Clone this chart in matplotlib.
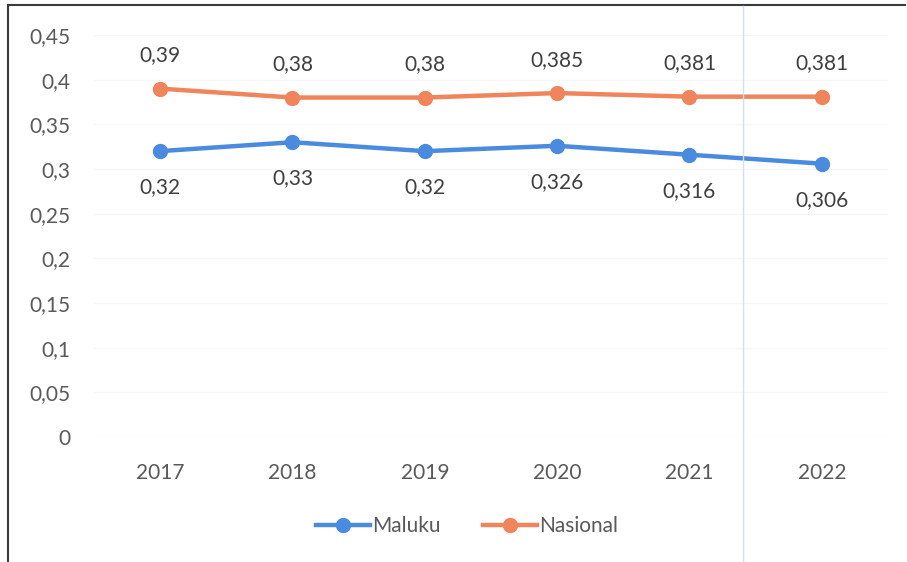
import matplotlib
matplotlib.use("Agg")
import matplotlib.pyplot as plt
from matplotlib.lines import Line2D

plt.rcParams['font.family'] = ['Lato', 'DejaVu Sans']

tahun = ['2017', '2018', '2019', '2020', '2021', '2022']
maluku = [0.32, 0.33, 0.32, 0.326, 0.316, 0.306]
nasional = [0.39, 0.38, 0.38, 0.385, 0.381, 0.381]
lbl_maluku = ['0,32', '0,33', '0,32', '0,326', '0,316', '0,306']
lbl_nasional = ['0,39', '0,38', '0,38', '0,385', '0,381', '0,381']
yticks = [0, 0.05, 0.1, 0.15, 0.2, 0.25, 0.3, 0.35, 0.4, 0.45]
ytick_lbl = ['0', '0,05', '0,1', '0,15', '0,2', '0,25', '0,3', '0,35', '0,4', '0,45']

c_blue = '#4A8BDF'
c_orange = '#F0845A'
c_text = '#595959'

fig = plt.figure(figsize=(9.07, 5.62), dpi=100)
ax = fig.add_axes([0.1036, 0.2224, 0.8754, 0.7153])

x = list(range(len(tahun)))
ax.plot(x, maluku, color=c_blue, lw=3.2, marker='o', ms=10, label='Maluku')
ax.plot(x, nasional, color=c_orange, lw=3.2, marker='o', ms=10, label='Nasional')

for i in x:
    ax.annotate(lbl_nasional[i], (i, nasional[i]), xytext=(0, 24), textcoords='offset points',
                ha='center', va='center', fontsize=15, color='#3f3f3f')
    ax.annotate(lbl_maluku[i], (i, maluku[i]), xytext=(0, -26), textcoords='offset points',
                ha='center', va='center', fontsize=15, color='#3f3f3f')

ax.set_xlim(-0.5, len(tahun) - 0.5)
ax.set_ylim(0, 0.45)
ax.set_xticks(x)
ax.set_xticklabels(tahun)
ax.set_yticks(yticks)
ax.set_yticklabels(ytick_lbl)
ax.tick_params(length=0, labelsize=15, labelcolor=c_text)
ax.tick_params(axis='x', pad=19)
ax.tick_params(axis='y', pad=17)
ax.grid(axis='y', color='#f6f6f6', lw=1)
ax.set_axisbelow(True)
for s in ax.spines.values():
    s.set_visible(False)

leg = ax.legend(loc='upper center', bbox_to_anchor=(0.47, -0.15), ncol=2, frameon=False,
                fontsize=15, handlelength=2.6, columnspacing=2.0, handletextpad=0.1)
for t in leg.get_texts():
    t.set_color(c_text)

# outer frame of the scanned chart
fig.add_artist(Line2D([8 / 907, 8 / 907], [0, 1 - 5 / 562], transform=fig.transFigure,
                      color='#3a3a3a', lw=1.5))
fig.add_artist(Line2D([8 / 907, 905 / 907], [1 - 5 / 562, 1 - 5 / 562], transform=fig.transFigure,
                      color='#3a3a3a', lw=1.5))
fig.add_artist(Line2D([743 / 907, 743 / 907], [0, 1 - 6 / 562], transform=fig.transFigure,
                      color='#d3e0f3', lw=1))

fig.savefig('out.png', dpi=100)
